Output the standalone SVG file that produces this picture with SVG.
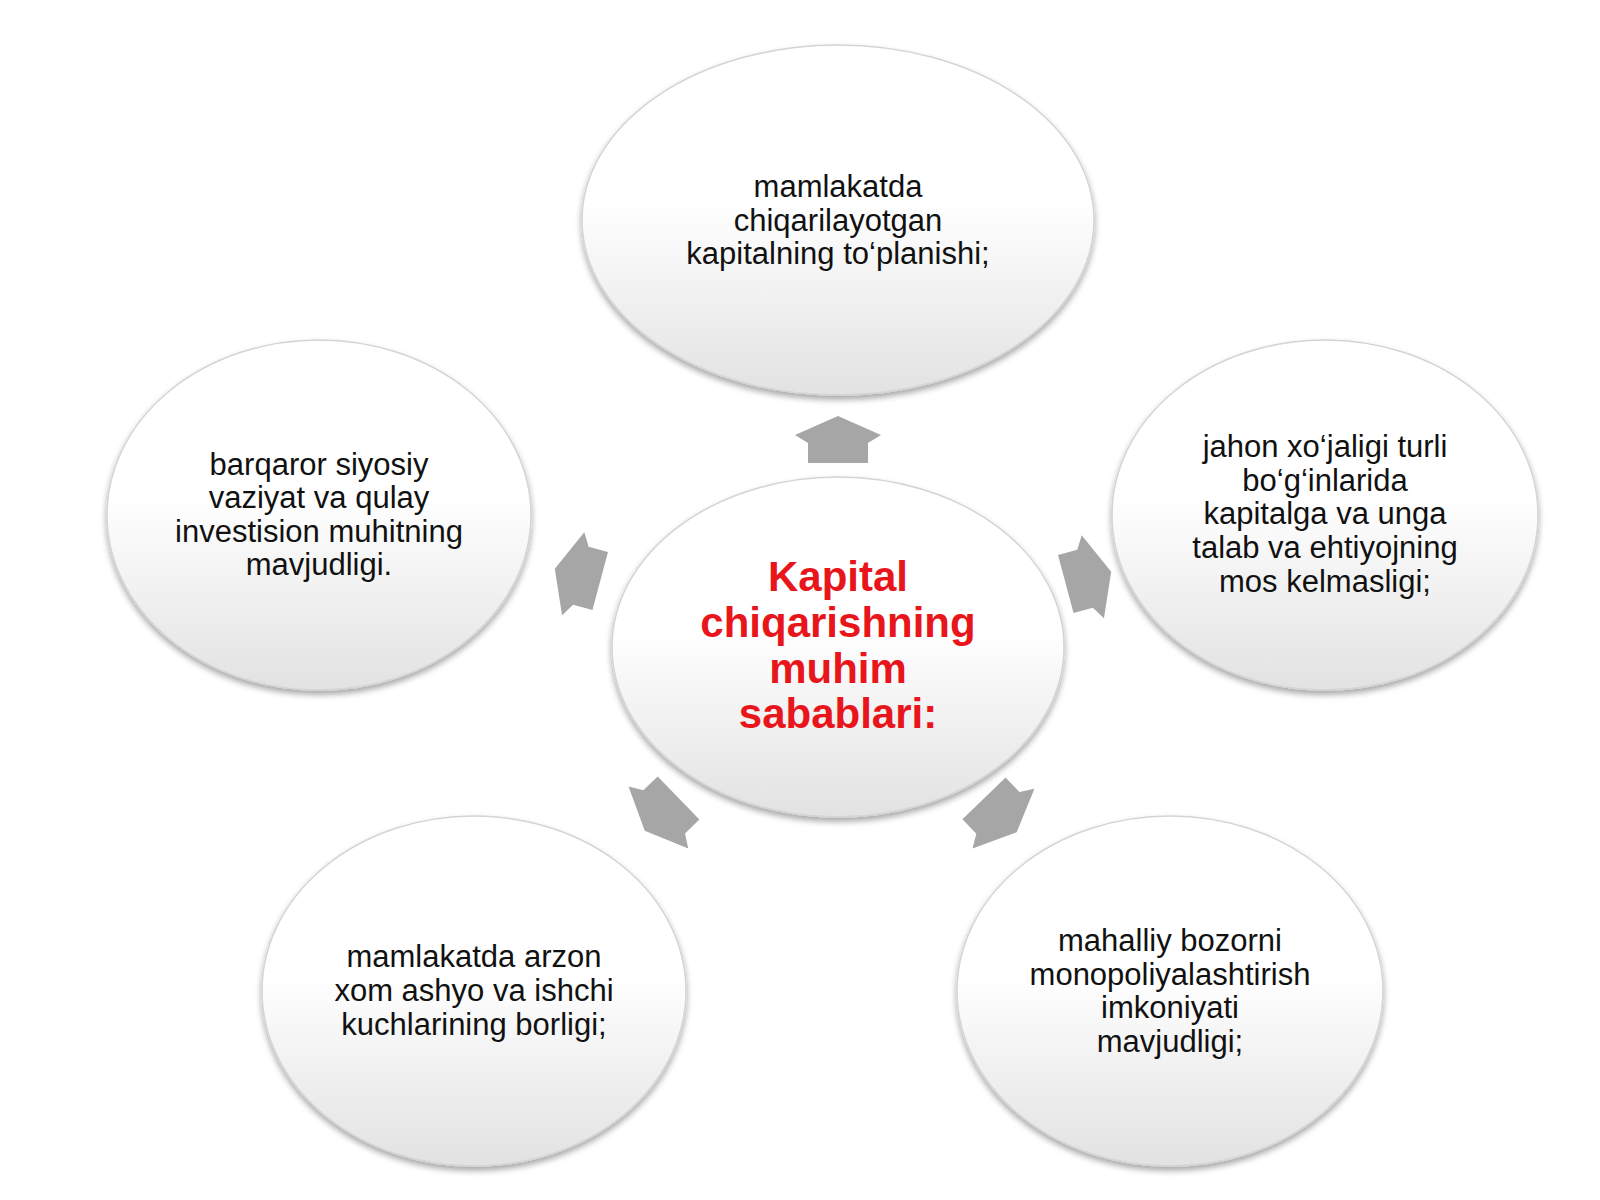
<svg xmlns="http://www.w3.org/2000/svg" width="1600" height="1200" viewBox="0 0 1600 1200">
<style>
.node{fill:url(#g);stroke:#d4d4d4;stroke-width:1.5;filter:url(#sh)}
.t{font-family:"Liberation Sans",Arial,sans-serif;font-size:31px;fill:#111;text-anchor:middle}
.c{font-family:"Liberation Sans",Arial,sans-serif;font-size:42px;font-weight:bold;fill:#e8161b;text-anchor:middle}
.arr{fill:#a6a6a6}
</style>
<defs>
<linearGradient id="g" x1="0" y1="0" x2="0" y2="1">
<stop offset="0" stop-color="#ffffff"/>
<stop offset="0.45" stop-color="#ffffff"/>
<stop offset="1" stop-color="#e2e2e2"/>
</linearGradient>
<filter id="sh" x="-10%" y="-10%" width="120%" height="125%">
<feGaussianBlur in="SourceAlpha" stdDeviation="3"/>
<feOffset dx="0" dy="4" result="b"/>
<feComponentTransfer><feFuncA type="linear" slope="0.35"/></feComponentTransfer>
<feMerge><feMergeNode/><feMergeNode in="SourceGraphic"/></feMerge>
</filter>
<path id="a" d="M0,-24 L43,-5 L30,3 L30,23 L-30,23 L-30,3 L-43,-5 Z"/>
</defs>
<rect width="1600" height="1200" fill="#ffffff"/>
<g id="connectors">
<use href="#a" class="arr" transform="translate(838,440)"/>
<use href="#a" class="arr" transform="translate(578,575) rotate(-75)"/>
<use href="#a" class="arr" transform="translate(1088,578) rotate(75)"/>
<use href="#a" class="arr" transform="translate(662,814) rotate(-134)"/>
<use href="#a" class="arr" transform="translate(1000,815) rotate(136)"/>
</g>
<g id="top">
<ellipse class="node" cx="838" cy="220" rx="256" ry="175"/>
<text class="t" x="838" y="197">mamlakatda</text>
<text class="t" x="838" y="231">chiqarilayotgan</text>
<text class="t" x="838" y="264">kapitalning to‘planishi;</text>
</g>
<g id="left">
<ellipse class="node" cx="319" cy="515" rx="212" ry="175"/>
<text class="t" x="319" y="475">barqaror siyosiy</text>
<text class="t" x="319" y="508">vaziyat va qulay</text>
<text class="t" x="319" y="542">investision muhitning</text>
<text class="t" x="319" y="575">mavjudligi.</text>
</g>
<g id="right">
<ellipse class="node" cx="1325" cy="515" rx="213" ry="175"/>
<text class="t" x="1325" y="457">jahon xo‘jaligi turli</text>
<text class="t" x="1325" y="491">bo‘g‘inlarida</text>
<text class="t" x="1325" y="524">kapitalga va unga</text>
<text class="t" x="1325" y="558">talab va ehtiyojning</text>
<text class="t" x="1325" y="592">mos kelmasligi;</text>
</g>
<g id="bottom-left">
<ellipse class="node" cx="474" cy="991" rx="212" ry="175"/>
<text class="t" x="474" y="967">mamlakatda arzon</text>
<text class="t" x="474" y="1001">xom ashyo va ishchi</text>
<text class="t" x="474" y="1035">kuchlarining borligi;</text>
</g>
<g id="bottom-right">
<ellipse class="node" cx="1170" cy="991" rx="213" ry="175"/>
<text class="t" x="1170" y="951">mahalliy bozorni</text>
<text class="t" x="1170" y="985">monopoliyalashtirish</text>
<text class="t" x="1170" y="1018">imkoniyati</text>
<text class="t" x="1170" y="1052">mavjudligi;</text>
</g>
<g id="center">
<ellipse class="node" cx="838" cy="647" rx="226" ry="170"/>
<text class="c" x="838" y="591">Kapital</text>
<text class="c" x="838" y="637">chiqarishning</text>
<text class="c" x="838" y="683">muhim</text>
<text class="c" x="838" y="728">sabablari:</text>
</g>
</svg>
